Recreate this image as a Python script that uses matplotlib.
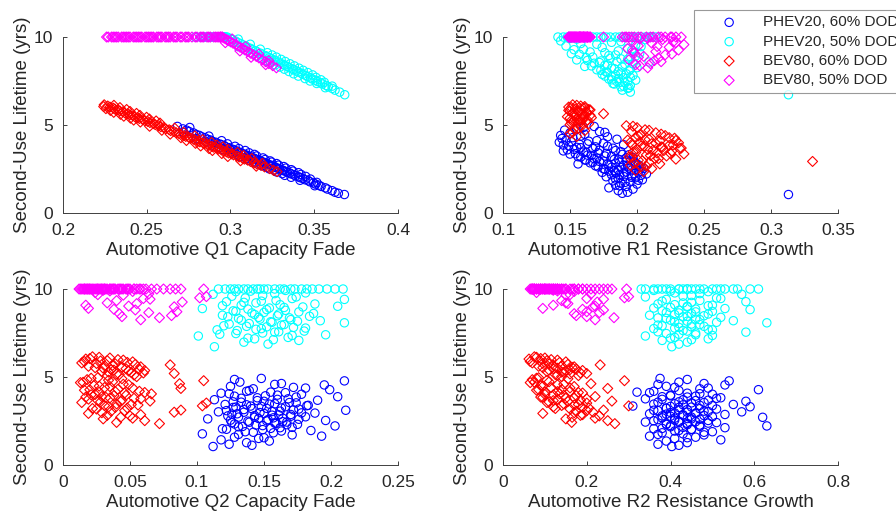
import matplotlib
matplotlib.use("Agg")
import matplotlib.pyplot as plt
from matplotlib.ticker import FormatStrFormatter

plt.rcParams['font.family'] = ['Liberation Sans', 'DejaVu Sans']

# ---------- PHEV20, 60% DOD ----------
phev60_life = [4.92, 4.78, 4.71, 4.63, 4.55, 4.47, 4.41, 4.33, 4.28, 4.19,
               4.14, 4.08, 4.02, 3.97, 3.91, 3.88, 3.82, 3.76, 3.71, 3.68,
               3.62, 3.57, 3.53, 3.48, 3.44, 3.39, 3.35, 3.31, 3.27, 3.22,
               3.18, 3.15, 3.11, 3.06, 3.02, 2.98, 2.95, 2.91, 2.87, 2.83,
               2.79, 2.74, 2.71, 2.66, 2.62, 2.58, 2.53, 2.49, 2.44, 2.41,
               2.36, 2.31, 2.27, 2.22, 2.17, 2.12, 2.06, 2.01, 1.96, 1.89,
               1.83, 1.77, 1.71, 1.64, 1.58, 1.51, 1.43, 1.36, 1.27, 1.18,
               1.12, 1.05,
               4.86, 4.58, 4.37, 4.23, 4.11, 4.05, 3.93, 3.86, 3.79, 3.73,
               3.66, 3.59, 3.55, 3.46, 3.42, 3.37, 3.33, 3.29, 3.24, 3.20,
               3.13, 3.09, 3.04, 3.00, 2.96, 2.93, 2.89, 2.85, 2.81, 2.77,
               2.72, 2.68, 2.64, 2.60, 2.55, 2.51, 2.46, 2.43, 2.38, 2.33,
               2.29, 2.24, 2.19, 2.14, 2.08, 2.03, 1.93, 1.86, 1.74, 1.55]
phev60_q1 = [0.2683, 0.2716, 0.2737, 0.2753, 0.2779, 0.2794, 0.2814, 0.2829, 0.2847, 0.2864,
             0.2882, 0.2891, 0.2912, 0.2920, 0.2940, 0.2943, 0.2963, 0.2972, 0.2991, 0.2993,
             0.3013, 0.3020, 0.3036, 0.3044, 0.3059, 0.3066, 0.3081, 0.3087, 0.3102, 0.3109,
             0.3124, 0.3127, 0.3142, 0.3150, 0.3165, 0.3170, 0.3182, 0.3188, 0.3203, 0.3208,
             0.3223, 0.3230, 0.3243, 0.3251, 0.3266, 0.3271, 0.3288, 0.3294, 0.3311, 0.3314,
             0.3331, 0.3339, 0.3354, 0.3362, 0.3379, 0.3387, 0.3407, 0.3415, 0.3432, 0.3445,
             0.3465, 0.3475, 0.3495, 0.3508, 0.3528, 0.3541, 0.3566, 0.3579, 0.3606, 0.3624,
             0.3644, 0.3680,
             0.2757, 0.2718, 0.2871, 0.2796, 0.2947, 0.2852, 0.2982, 0.2890, 0.3027, 0.2933,
             0.3050, 0.2958, 0.3088, 0.3001, 0.3111, 0.3013, 0.3143, 0.3044, 0.3156, 0.3056,
             0.3194, 0.3094, 0.3207, 0.3107, 0.3237, 0.3134, 0.3245, 0.3145, 0.3275, 0.3175,
             0.3287, 0.3188, 0.3318, 0.3218, 0.3330, 0.3231, 0.3363, 0.3261, 0.3373, 0.3276,
             0.3406, 0.3309, 0.3421, 0.3324, 0.3449, 0.3362, 0.3477, 0.3415, 0.3515, 0.3503]
phev60_r1 = [0.168, 0.155, 0.146, 0.172, 0.150, 0.161, 0.143, 0.178, 0.152, 0.185,
             0.147, 0.164, 0.142, 0.175, 0.157, 0.190, 0.149, 0.169, 0.158, 0.182,
             0.153, 0.172, 0.145, 0.188, 0.162, 0.177, 0.150, 0.194, 0.166, 0.181,
             0.158, 0.197, 0.170, 0.186, 0.161, 0.192, 0.175, 0.198, 0.167, 0.184,
             0.156, 0.201, 0.179, 0.193, 0.171, 0.188, 0.205, 0.176, 0.196, 0.183,
             0.203, 0.174, 0.190, 0.207, 0.181, 0.196, 0.177, 0.199, 0.186, 0.204,
             0.182, 0.195, 0.188, 0.200, 0.184, 0.192, 0.179, 0.197, 0.186, 0.193,
             0.189, 0.313,
             0.160, 0.176, 0.158, 0.144, 0.170, 0.151, 0.163, 0.145, 0.178, 0.155,
             0.167, 0.148, 0.184, 0.160, 0.171, 0.154, 0.189, 0.163, 0.176, 0.156,
             0.192, 0.168, 0.183, 0.162, 0.195, 0.172, 0.187, 0.165, 0.199, 0.178,
             0.190, 0.169, 0.202, 0.181, 0.194, 0.175, 0.186, 0.201, 0.179, 0.192,
             0.184, 0.198, 0.187, 0.203, 0.190, 0.196, 0.184, 0.201, 0.191, 0.187]
phev60_q2 = [0.148, 0.210, 0.132, 0.163, 0.195, 0.125, 0.172, 0.142, 0.199, 0.137,
             0.155, 0.118, 0.178, 0.160, 0.128, 0.205, 0.145, 0.168, 0.113, 0.190,
             0.150, 0.133, 0.174, 0.158, 0.121, 0.183, 0.140, 0.166, 0.127, 0.152,
             0.176, 0.135, 0.211, 0.162, 0.116, 0.147, 0.188, 0.130, 0.170, 0.156,
             0.123, 0.181, 0.143, 0.164, 0.108, 0.153, 0.196, 0.138, 0.167, 0.126,
             0.159, 0.175, 0.144, 0.203, 0.131, 0.162, 0.119, 0.149, 0.185, 0.136,
             0.157, 0.104, 0.171, 0.193, 0.128, 0.146, 0.118, 0.154, 0.137, 0.124,
             0.141, 0.112,
             0.128, 0.158, 0.181, 0.139, 0.166, 0.124, 0.151, 0.174, 0.133, 0.160,
             0.145, 0.127, 0.169, 0.154, 0.137, 0.182, 0.148, 0.129, 0.163, 0.141,
             0.172, 0.122, 0.156, 0.135, 0.178, 0.150, 0.126, 0.161, 0.143, 0.170,
             0.131, 0.157, 0.146, 0.176, 0.125, 0.152, 0.164, 0.139, 0.158, 0.128,
             0.167, 0.149, 0.134, 0.171, 0.155, 0.122, 0.163, 0.142, 0.131, 0.150]
phev60_r2 = [0.375, 0.54, 0.42, 0.48, 0.53, 0.39, 0.41, 0.47, 0.61, 0.36,
             0.32, 0.44, 0.50, 0.40, 0.46, 0.38, 0.52, 0.34, 0.43, 0.49,
             0.58, 0.37, 0.45, 0.41, 0.55, 0.47, 0.31, 0.59, 0.42, 0.39,
             0.51, 0.44, 0.36, 0.48, 0.57, 0.40, 0.46, 0.35, 0.53, 0.43,
             0.38, 0.50, 0.62, 0.41, 0.45, 0.37, 0.49, 0.42, 0.34, 0.51,
             0.44, 0.39, 0.47, 0.63, 0.40, 0.53, 0.36, 0.45, 0.42, 0.50,
             0.38, 0.43, 0.48, 0.35, 0.46, 0.41, 0.52, 0.39, 0.44, 0.37,
             0.42, 0.403,
             0.44, 0.37, 0.49, 0.42, 0.35, 0.47, 0.40, 0.44, 0.51, 0.38,
             0.46, 0.42, 0.48, 0.36, 0.43, 0.50, 0.40, 0.45, 0.39, 0.47,
             0.42, 0.37, 0.49, 0.44, 0.41, 0.46, 0.39, 0.43, 0.48, 0.40,
             0.45, 0.38, 0.44, 0.47, 0.41, 0.36, 0.46, 0.42, 0.49, 0.39,
             0.44, 0.40, 0.47, 0.43, 0.38, 0.45, 0.41, 0.48, 0.37, 0.44]

# ---------- PHEV20, 50% DOD ----------
phev50_life = [10, 10, 10, 10, 10, 10, 10, 10, 10, 10,
               10, 10, 10, 10, 10, 10, 9.92, 9.85, 9.78, 9.70,
               9.63, 9.55, 9.49, 9.41, 9.35, 9.28, 9.21, 9.15, 9.08, 9.02,
               8.95, 8.89, 8.83, 8.76, 8.70, 8.64, 8.58, 8.51, 8.45, 8.39,
               8.33, 8.26, 8.20, 8.14, 8.08, 8.01, 7.95, 7.88, 7.82, 7.75,
               7.68, 7.61, 7.55, 7.47, 7.40, 7.33, 7.25, 7.17, 7.08, 6.98,
               6.87, 6.72,
               10, 10, 10, 10, 10, 10, 10, 10, 9.88, 9.74,
               9.59, 9.46, 9.31, 9.24, 9.11, 9.05, 8.98, 8.92, 8.86, 8.79,
               8.73, 8.67, 8.61, 8.55, 8.48, 8.42, 8.36, 8.29, 8.23, 8.17,
               8.11, 8.04, 7.98, 7.91, 7.85, 7.78, 7.71, 7.64, 7.57, 7.50,
               7.43, 7.36, 7.21, 7.12]
phev50_q1 = [0.279, 0.282, 0.284, 0.285, 0.287, 0.288, 0.290, 0.291, 0.292, 0.293,
             0.294, 0.295, 0.296, 0.296, 0.297, 0.298, 0.2999, 0.3010, 0.3029, 0.3042,
             0.3061, 0.3074, 0.3091, 0.3104, 0.3121, 0.3132, 0.3151, 0.3160, 0.3179, 0.3188,
             0.3207, 0.3216, 0.3232, 0.3243, 0.3260, 0.3269, 0.3286, 0.3297, 0.3314, 0.3323,
             0.3339, 0.3350, 0.3367, 0.3376, 0.3393, 0.3404, 0.3421, 0.3432, 0.3449, 0.3460,
             0.3478, 0.3489, 0.3506, 0.3519, 0.3538, 0.3549, 0.3571, 0.3584, 0.3607, 0.3624,
             0.3652, 0.3682,
             0.283, 0.286, 0.289, 0.291, 0.293, 0.295, 0.296, 0.297, 0.3046, 0.2996,
             0.3118, 0.3046, 0.3178, 0.3093, 0.3220, 0.3133, 0.3248, 0.3161, 0.3274, 0.3189,
             0.3302, 0.3215, 0.3327, 0.3240, 0.3355, 0.3268, 0.3381, 0.3296, 0.3409, 0.3322,
             0.3434, 0.3349, 0.3462, 0.3377, 0.3490, 0.3405, 0.3510, 0.3445, 0.3540, 0.3475,
             0.3560, 0.3515, 0.3607, 0.3566]
phev50_r1 = [0.141, 0.148, 0.156, 0.163, 0.170, 0.177, 0.184, 0.190, 0.197, 0.203,
             0.209, 0.214, 0.145, 0.160, 0.187, 0.200, 0.150, 0.206, 0.143, 0.181,
             0.158, 0.199, 0.147, 0.174, 0.193, 0.153, 0.186, 0.165, 0.202, 0.157,
             0.179, 0.195, 0.162, 0.188, 0.155, 0.173, 0.209, 0.168, 0.191, 0.176,
             0.161, 0.200, 0.183, 0.170, 0.194, 0.177, 0.188, 0.174, 0.197, 0.181,
             0.190, 0.179, 0.199, 0.185, 0.191, 0.183, 0.195, 0.188, 0.193, 0.189,
             0.195, 0.313,
             0.152, 0.167, 0.180, 0.194, 0.206, 0.173, 0.158, 0.211, 0.155, 0.188,
             0.170, 0.203, 0.160, 0.196, 0.176, 0.151, 0.184, 0.199, 0.167, 0.180,
             0.193, 0.163, 0.185, 0.172, 0.197, 0.178, 0.166, 0.189, 0.181, 0.195,
             0.173, 0.186, 0.178, 0.192, 0.184, 0.176, 0.195, 0.186, 0.181, 0.193,
             0.187, 0.182, 0.190, 0.194]
phev50_q2 = [0.125, 0.158, 0.209, 0.138, 0.186, 0.116, 0.170, 0.147, 0.197, 0.131,
             0.162, 0.203, 0.178, 0.121, 0.153, 0.142, 0.166, 0.129, 0.181, 0.112,
             0.149, 0.174, 0.136, 0.210, 0.159, 0.122, 0.144, 0.188, 0.133, 0.205,
             0.165, 0.104, 0.152, 0.127, 0.176, 0.141, 0.161, 0.119, 0.184, 0.146,
             0.131, 0.170, 0.192, 0.155, 0.210, 0.124, 0.163, 0.137, 0.172, 0.148,
             0.115, 0.180, 0.158, 0.129, 0.196, 0.101, 0.168, 0.143, 0.176, 0.135,
             0.153, 0.113,
             0.135, 0.173, 0.128, 0.191, 0.150, 0.165, 0.145, 0.182, 0.140, 0.158,
             0.126, 0.171, 0.148, 0.135, 0.162, 0.119, 0.179, 0.154, 0.138, 0.166,
             0.129, 0.150, 0.187, 0.143, 0.160, 0.123, 0.169, 0.147, 0.133, 0.175,
             0.156, 0.139, 0.165, 0.120, 0.152, 0.181, 0.144, 0.130, 0.161, 0.149,
             0.117, 0.171, 0.138, 0.157]
phev50_r2 = [0.34, 0.52, 0.61, 0.40, 0.47, 0.37, 0.56, 0.44, 0.50, 0.42,
             0.33, 0.59, 0.46, 0.38, 0.53, 0.43, 0.36, 0.49, 0.41, 0.57,
             0.45, 0.34, 0.51, 0.39, 0.47, 0.58, 0.43, 0.37, 0.50, 0.44,
             0.40, 0.53, 0.59, 0.38, 0.46, 0.42, 0.49, 0.35, 0.44, 0.52,
             0.39, 0.47, 0.55, 0.41, 0.63, 0.45, 0.37, 0.48, 0.42, 0.36,
             0.50, 0.44, 0.58, 0.39, 0.46, 0.34, 0.41, 0.49, 0.38, 0.44,
             0.42, 0.403,
             0.45, 0.39, 0.51, 0.36, 0.48, 0.42, 0.55, 0.44, 0.40, 0.47,
             0.43, 0.52, 0.38, 0.45, 0.41, 0.49, 0.44, 0.36, 0.46, 0.42,
             0.50, 0.39, 0.45, 0.41, 0.48, 0.43, 0.37, 0.46, 0.40, 0.44,
             0.51, 0.42, 0.47, 0.38, 0.45, 0.41, 0.49, 0.43, 0.37, 0.46,
             0.42, 0.50, 0.40, 0.45]

# ---------- BEV80, 60% DOD ----------
bev60_life = [6.15, 6.08, 6.02, 5.96, 5.91, 5.86, 5.80, 5.75, 5.69, 5.64,
              5.58, 5.53, 5.47, 5.42, 5.37, 5.31, 5.26, 5.20, 5.14, 5.08,
              5.02, 4.96, 4.90, 4.85, 4.79, 4.73, 4.68, 4.62, 4.56, 4.51,
              4.46, 4.40, 4.35, 4.30, 4.25, 4.19, 4.14, 4.09, 4.04, 3.99,
              3.94, 3.89, 3.84, 3.79, 3.74, 3.69, 3.63, 3.58, 3.52, 3.47,
              3.41, 3.36, 3.30, 3.24, 3.18, 3.12, 3.06, 3.00, 2.93, 2.86,
              2.79, 2.71, 2.62, 2.52, 2.42, 2.35,
              6.12, 6.05, 5.99, 5.93, 5.88, 5.83, 5.77, 5.72, 5.66, 5.61,
              5.55, 5.50, 5.44, 5.39, 5.34, 5.28, 5.23, 5.17, 5.11, 4.93,
              4.82, 4.70, 4.59, 4.48, 4.38, 4.28, 4.17, 4.12, 4.01, 3.96,
              3.86, 3.81, 3.76, 3.66, 3.61, 3.55, 3.44, 3.38, 3.27, 3.21,
              3.09, 2.97, 2.82, 2.66]
bev60_q1 = [0.2246, 0.2267, 0.2280, 0.2300, 0.2309, 0.2327, 0.2339, 0.2357, 0.2369, 0.2387,
            0.2399, 0.2417, 0.2429, 0.2446, 0.2456, 0.2476, 0.2486, 0.2506, 0.2519, 0.2539,
            0.2551, 0.2571, 0.2584, 0.2601, 0.2613, 0.2634, 0.2643, 0.2664, 0.2676, 0.2693,
            0.2703, 0.2723, 0.2733, 0.2751, 0.2760, 0.2780, 0.2790, 0.2808, 0.2817, 0.2835,
            0.2844, 0.2862, 0.2871, 0.2889, 0.2898, 0.2916, 0.2928, 0.2946, 0.2958, 0.2976,
            0.2988, 0.3006, 0.3018, 0.3038, 0.3051, 0.3071, 0.3083, 0.3103, 0.3119, 0.3141,
            0.3157, 0.3182, 0.3203, 0.3234, 0.3257, 0.3278,
            0.2304, 0.2243, 0.2340, 0.2256, 0.2380, 0.2283, 0.2400, 0.2303, 0.2439, 0.2343,
            0.2459, 0.2363, 0.2499, 0.2403, 0.2516, 0.2422, 0.2556, 0.2462, 0.2579, 0.2517,
            0.2667, 0.2590, 0.2720, 0.2640, 0.2787, 0.2704, 0.2834, 0.2737, 0.2887, 0.2791,
            0.2918, 0.2822, 0.2955, 0.2872, 0.2986, 0.2892, 0.3042, 0.2948, 0.3078, 0.2984,
            0.3127, 0.3060, 0.3190, 0.3154]
bev60_r1 = [0.152, 0.158, 0.149, 0.161, 0.154, 0.165, 0.150, 0.157, 0.163, 0.175,
            0.153, 0.160, 0.148, 0.166, 0.155, 0.159, 0.151, 0.162, 0.156, 0.164,
            0.150, 0.192, 0.158, 0.200, 0.153, 0.206, 0.161, 0.196, 0.214, 0.150,
            0.203, 0.221, 0.155, 0.199, 0.228, 0.209, 0.193, 0.217, 0.202, 0.231,
            0.211, 0.196, 0.224, 0.205, 0.219, 0.233, 0.200, 0.212, 0.226, 0.197,
            0.215, 0.235, 0.207, 0.222, 0.194, 0.213, 0.229, 0.201, 0.331, 0.209,
            0.217, 0.195, 0.203, 0.211, 0.199, 0.205,
            0.155, 0.161, 0.151, 0.158, 0.164, 0.149, 0.156, 0.162, 0.152, 0.159,
            0.165, 0.154, 0.160, 0.150, 0.157, 0.163, 0.153, 0.158, 0.151, 0.197,
            0.156, 0.209, 0.152, 0.218, 0.201, 0.224, 0.206, 0.229, 0.195, 0.214,
            0.227, 0.203, 0.218, 0.232, 0.208, 0.220, 0.199, 0.225, 0.210, 0.196,
            0.216, 0.204, 0.198, 0.207]
bev60_q2 = [0.022, 0.035, 0.017, 0.045, 0.028, 0.052, 0.014, 0.039, 0.080, 0.031,
            0.058, 0.024, 0.047, 0.036, 0.061, 0.029, 0.051, 0.083, 0.042, 0.033,
            0.055, 0.026, 0.044, 0.018, 0.105, 0.037, 0.013, 0.087, 0.049, 0.023,
            0.035, 0.031, 0.088, 0.041, 0.016, 0.057, 0.027, 0.046, 0.066, 0.021,
            0.038, 0.029, 0.032, 0.053, 0.019, 0.044, 0.065, 0.028, 0.107, 0.040,
            0.056, 0.104, 0.034, 0.048, 0.025, 0.088, 0.036, 0.083, 0.019, 0.058,
            0.050, 0.043, 0.030, 0.061, 0.040, 0.072,
            0.027, 0.020, 0.041, 0.033, 0.016, 0.048, 0.025, 0.054, 0.037, 0.019,
            0.044, 0.030, 0.057, 0.038, 0.049, 0.034, 0.060, 0.040, 0.053, 0.021,
            0.034, 0.015, 0.045, 0.027, 0.052, 0.020, 0.039, 0.061, 0.024, 0.047,
            0.017, 0.035, 0.058, 0.026, 0.043, 0.014, 0.051, 0.031, 0.039, 0.022,
            0.046, 0.029, 0.033, 0.052]
bev60_r2 = [0.075, 0.10, 0.062, 0.13, 0.088, 0.15, 0.07, 0.11, 0.232, 0.14,
            0.17, 0.095, 0.12, 0.16, 0.19, 0.105, 0.145, 0.20, 0.125, 0.18,
            0.14, 0.085, 0.155, 0.07, 0.29, 0.11, 0.065, 0.21, 0.13, 0.09,
            0.17, 0.115, 0.25, 0.14, 0.08, 0.16, 0.10, 0.19, 0.135, 0.12,
            0.175, 0.22, 0.095, 0.15, 0.13, 0.185, 0.26, 0.11, 0.20, 0.145,
            0.17, 0.30, 0.12, 0.205, 0.16, 0.24, 0.175, 0.215, 0.095, 0.19,
            0.23, 0.165, 0.15, 0.25, 0.164, 0.267,
            0.08, 0.09, 0.115, 0.105, 0.065, 0.135, 0.095, 0.155, 0.12, 0.085,
            0.165, 0.13, 0.175, 0.11, 0.15, 0.14, 0.185, 0.16, 0.13, 0.08,
            0.105, 0.075, 0.145, 0.095, 0.16, 0.085, 0.13, 0.18, 0.10, 0.145,
            0.09, 0.17, 0.20, 0.12, 0.155, 0.105, 0.18, 0.14, 0.19, 0.125,
            0.20, 0.17, 0.185, 0.22]

# ---------- BEV80, 50% DOD ----------
bev50_life = [10, 10, 10, 10, 10, 10, 10, 10, 10, 10,
              10, 10, 10, 10, 10, 10, 10, 10, 10, 10,
              10, 10, 10, 10, 10, 10, 10, 10, 10, 10,
              10, 10, 10, 10, 10, 10, 9.93, 9.86, 9.80, 9.72,
              9.65, 9.57, 9.50, 9.42, 9.34, 9.26, 9.17, 9.08, 8.99, 8.90,
              8.81, 8.71, 8.60, 8.49, 8.37, 8.25,
              10, 10, 10, 10, 10, 10, 10, 10, 10, 10,
              10, 10, 10, 10, 10, 10, 10, 10, 10, 10,
              10, 10, 9.89, 9.68, 9.46, 9.21, 9.03, 8.85, 8.66, 8.43]
bev50_q1 = [0.226, 0.229, 0.231, 0.233, 0.236, 0.238, 0.240, 0.243, 0.245, 0.247,
            0.250, 0.252, 0.254, 0.257, 0.259, 0.262, 0.264, 0.266, 0.268, 0.271,
            0.273, 0.275, 0.277, 0.280, 0.282, 0.284, 0.286, 0.288, 0.290, 0.291,
            0.292, 0.293, 0.294, 0.294, 0.295, 0.295, 0.2963, 0.2976, 0.2987, 0.3002,
            0.3015, 0.3030, 0.3043, 0.3057, 0.3072, 0.3087, 0.3104, 0.3120, 0.3137, 0.3154,
            0.3170, 0.3189, 0.3209, 0.3229, 0.3252, 0.3274,
            0.227, 0.230, 0.232, 0.235, 0.237, 0.239, 0.242, 0.244, 0.246, 0.249,
            0.251, 0.253, 0.256, 0.258, 0.261, 0.263, 0.267, 0.270, 0.274, 0.279,
            0.283, 0.287, 0.3010, 0.2969, 0.3090, 0.3056, 0.3169, 0.3123, 0.3228, 0.3210]
bev50_r1 = [0.150, 0.157, 0.163, 0.153, 0.160, 0.149, 0.156, 0.162, 0.152, 0.159,
            0.165, 0.151, 0.158, 0.154, 0.161, 0.175, 0.155, 0.192, 0.160, 0.201,
            0.153, 0.212, 0.157, 0.196, 0.221, 0.163, 0.207, 0.229, 0.150, 0.216,
            0.194, 0.225, 0.158, 0.203, 0.233, 0.189, 0.208, 0.219, 0.196, 0.227,
            0.211, 0.235, 0.201, 0.224, 0.193, 0.231, 0.214, 0.198, 0.221, 0.205,
            0.216, 0.194, 0.218, 0.210, 0.202, 0.208,
            0.155, 0.161, 0.150, 0.158, 0.164, 0.153, 0.160, 0.149, 0.156, 0.162,
            0.152, 0.159, 0.165, 0.151, 0.157, 0.198, 0.163, 0.210, 0.154, 0.218,
            0.191, 0.226, 0.202, 0.229, 0.215, 0.197, 0.226, 0.201, 0.213, 0.199]
bev50_q2 = [0.014, 0.021, 0.017, 0.030, 0.026, 0.012, 0.038, 0.023, 0.044, 0.019,
            0.033, 0.050, 0.028, 0.041, 0.057, 0.035, 0.016, 0.047, 0.062, 0.025,
            0.070, 0.039, 0.053, 0.080, 0.031, 0.045, 0.088, 0.058, 0.105, 0.036,
            0.066, 0.075, 0.020, 0.049, 0.084, 0.027, 0.030, 0.052, 0.024, 0.064,
            0.045, 0.107, 0.102, 0.065, 0.040, 0.089, 0.055, 0.017, 0.083, 0.019,
            0.054, 0.085, 0.042, 0.081, 0.072, 0.058,
            0.018, 0.024, 0.013, 0.029, 0.035, 0.016, 0.042, 0.022, 0.031, 0.048,
            0.015, 0.037, 0.026, 0.053, 0.020, 0.043, 0.032, 0.060, 0.018, 0.038,
            0.055, 0.029, 0.035, 0.026, 0.060, 0.033, 0.049, 0.038, 0.064, 0.044]
bev50_r2 = [0.065, 0.08, 0.072, 0.095, 0.11, 0.085, 0.12, 0.09, 0.14, 0.10,
            0.125, 0.16, 0.075, 0.13, 0.18, 0.105, 0.07, 0.15, 0.20, 0.115,
            0.22, 0.135, 0.17, 0.24, 0.10, 0.145, 0.25, 0.19, 0.295, 0.13,
            0.21, 0.26, 0.09, 0.165, 0.23, 0.11, 0.12, 0.17, 0.08, 0.21,
            0.15, 0.30, 0.29, 0.24, 0.14, 0.225, 0.155, 0.12, 0.215, 0.095,
            0.24, 0.20, 0.17, 0.175, 0.265, 0.22,
            0.075, 0.09, 0.068, 0.10, 0.115, 0.08, 0.13, 0.095, 0.12, 0.15,
            0.07, 0.11, 0.10, 0.17, 0.085, 0.14, 0.12, 0.19, 0.075, 0.125,
            0.18, 0.105, 0.13, 0.16, 0.20, 0.15, 0.22, 0.19, 0.23, 0.20]

series_labels = ["PHEV20, 60% DOD", "PHEV20, 50% DOD", "BEV80, 60% DOD", "BEV80, 50% DOD"]

# label, marker, colour, marker area, {x-variable: values}, lifetime
groups = [
    (series_labels[0], "o", "#0000ff", 36,
     {"q1": phev60_q1, "r1": phev60_r1, "q2": phev60_q2, "r2": phev60_r2}, phev60_life),
    (series_labels[1], "o", "#00ffff", 36,
     {"q1": phev50_q1, "r1": phev50_r1, "q2": phev50_q2, "r2": phev50_r2}, phev50_life),
    (series_labels[2], "D", "#ff0000", 26,
     {"q1": bev60_q1, "r1": bev60_r1, "q2": bev60_q2, "r2": bev60_r2}, bev60_life),
    (series_labels[3], "D", "#ff00ff", 26,
     {"q1": bev50_q1, "r1": bev50_r1, "q2": bev50_q2, "r2": bev50_r2}, bev50_life),
]

# axes rectangle, x variable, x label, x ticks
panels = [
    ([0.0703, 0.5864, 0.3739, 0.3417], "q1", "Automotive Q1 Capacity Fade",
     [0.2, 0.25, 0.3, 0.35, 0.4]),
    ([0.5614, 0.5864, 0.3739, 0.3417], "r1", "Automotive R1 Resistance Growth",
     [0.1, 0.15, 0.2, 0.25, 0.3, 0.35]),
    ([0.0703, 0.0971, 0.3739, 0.3417], "q2", "Automotive Q2 Capacity Fade",
     [0, 0.05, 0.1, 0.15, 0.2, 0.25]),
    ([0.5614, 0.0971, 0.3739, 0.3417], "r2", "Automotive R2 Resistance Growth",
     [0, 0.2, 0.4, 0.6, 0.8]),
]

TEXT = "#262626"

fig = plt.figure(figsize=(8.96, 5.15), dpi=100)
handles = []
for rect, key, xlabel, xticks in panels:
    ax = fig.add_axes(rect)
    hs = []
    for label, marker, color, size, xs, life in groups:
        h = ax.scatter(xs[key], life, s=size, marker=marker, facecolors="none",
                       edgecolors=color, linewidths=0.8, clip_on=False, label=label)
        hs.append(h)
    if not handles:
        handles = hs
    ax.set_xlim(xticks[0], xticks[-1])
    ax.set_ylim(0, 10)
    ax.set_xticks(xticks)
    ax.set_yticks([0, 5, 10])
    ax.xaxis.set_major_formatter(FormatStrFormatter("%g"))
    ax.yaxis.set_major_formatter(FormatStrFormatter("%g"))
    for side in ("top", "right"):
        ax.spines[side].set_visible(False)
    for side in ("left", "bottom"):
        ax.spines[side].set_color("#404040")
        ax.spines[side].set_linewidth(0.7)
    ax.tick_params(direction="in", length=3, width=0.7, color="#404040",
                   labelcolor=TEXT, labelsize=12.5, pad=7)
    ax.set_xlabel(xlabel, fontsize=13.5, color=TEXT, labelpad=3)
    ax.set_ylabel("Second-Use Lifetime (yrs)", fontsize=13.5, color=TEXT, labelpad=2)

leg = fig.legend(handles, series_labels, loc="upper left",
                 bbox_to_anchor=(694 / 896, 1 - 10 / 515), fontsize=11,
                 frameon=True, fancybox=False, borderpad=0.35, handlelength=3.9,
                 handletextpad=0.25, labelspacing=0.35, borderaxespad=0)
leg.get_frame().set_edgecolor("#808080")
leg.get_frame().set_linewidth(0.8)
for t in leg.get_texts():
    t.set_color(TEXT)

fig.savefig("out.png", dpi=100)
